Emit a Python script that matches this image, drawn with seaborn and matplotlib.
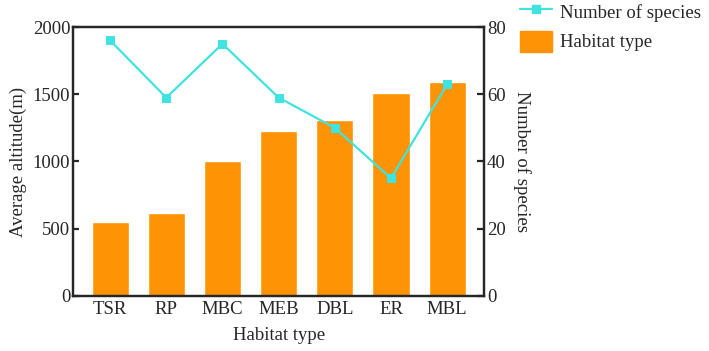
import matplotlib
matplotlib.use("Agg")
import matplotlib.pyplot as plt
import seaborn as sns
from matplotlib.lines import Line2D
from matplotlib.patches import Patch

habitats = ["TSR", "RP", "MBC", "MEB", "DBL", "ER", "MBL"]
altitude = [550, 620, 1000, 1230, 1310, 1510, 1590]
species = [76, 59, 75, 59, 50, 35, 63]

bar_color = "#FF9306"
line_color = "#3FE3E0"

sns.set_style("ticks")
plt.rcParams["font.family"] = ["Liberation Serif", "DejaVu Serif"]
plt.rcParams["axes.linewidth"] = 1.6

fig = plt.figure(figsize=(7.09, 3.51), dpi=100)
ax = fig.add_axes([0.103, 0.157, 0.58, 0.766])

sns.barplot(x=habitats, y=altitude, color=bar_color, width=0.66, saturation=1, ax=ax)
ax.set_ylim(0, 2000)
ax.set_yticks([0, 500, 1000, 1500, 2000])
ax.set_xlim(-0.66, 6.66)
ax.set_xlabel("Habitat type", fontsize=13.5, labelpad=6)
ax.set_ylabel("Average altitude(m)", fontsize=13.5, labelpad=4)
ax.tick_params(axis="x", direction="in", length=5, width=1.6, labelsize=13.5, pad=4)
ax.tick_params(axis="y", direction="in", length=4, width=1.6, labelsize=13.5, pad=2)

ax2 = ax.twinx()
sns.lineplot(x=habitats, y=species, sort=False, color=line_color, marker="s",
             markersize=6, markeredgecolor=line_color, linewidth=1.6, ax=ax2)
ax2.set_ylim(0, 80)
ax2.set_yticks([0, 20, 40, 60, 80])
ax2.set_ylabel("Number of species", fontsize=13.5, rotation=270, labelpad=18)
ax2.tick_params(axis="y", direction="in", length=5, width=1.6, labelsize=13.5, pad=2)
for a in (ax, ax2):
    for s in a.spines.values():
        s.set_linewidth(1.6)

handles = [
    Line2D([0], [0], color=line_color, marker="s", markersize=6, linewidth=1.6),
    Patch(facecolor=bar_color, edgecolor=bar_color),
]
fig.legend(handles, ["Number of species", "Habitat type"], loc="upper left",
           bbox_to_anchor=(0.709, 1.045), frameon=False, fontsize=13.5,
           handlelength=1.75, handleheight=1.35, labelspacing=0.45, handletextpad=0.4)

fig.savefig("out.png", dpi=100)
